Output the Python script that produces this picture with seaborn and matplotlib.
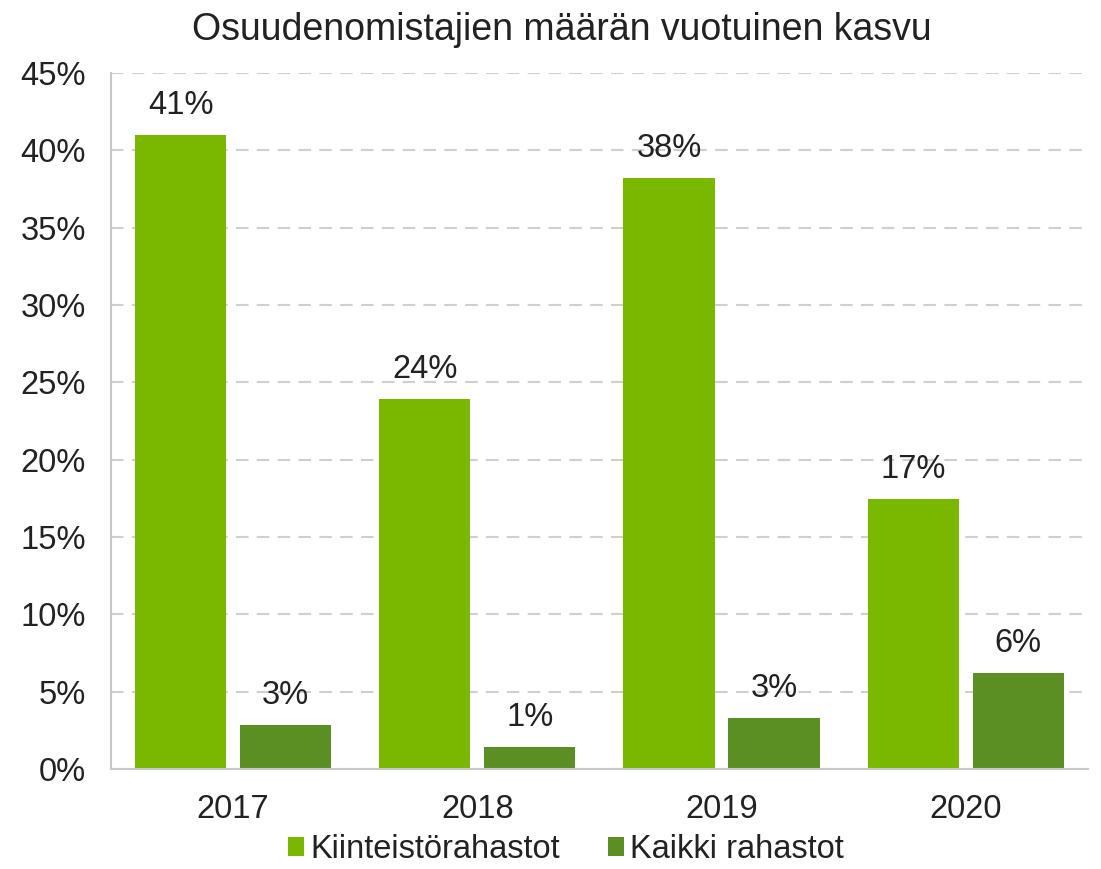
import matplotlib
matplotlib.use("Agg")
import matplotlib.pyplot as plt
from matplotlib.ticker import PercentFormatter
import seaborn as sns
import pandas as pd

## ===================== data =====================

years = ["2017", "2018", "2019", "2020"]
series = ["Kiinteistörahastot", "Kaikki rahastot"]
kiinteisto = [41.0, 23.9, 38.2, 17.45]
kaikki = [2.85, 1.45, 3.3, 6.2]
colors = ["#7AB800", "#5B8F23"]

df = pd.DataFrame({
    "Vuosi": years * 2,
    "Sarja": [series[0]] * len(years) + [series[1]] * len(years),
    "Kasvu": kiinteisto + kaikki,
})

## ===================== draw figure =====================

sns.set_style("white")
plt.rcParams["font.family"] = ["Liberation Sans", "DejaVu Sans"]
fs = 23.5

fig = plt.figure(figsize = (11.01, 8.69), dpi = 100)
ax = fig.add_axes([0.1008, 0.1151, 0.8872, 0.8009])

sns.barplot(ax = ax, data = df, x = "Vuosi", y = "Kasvu", hue = "Sarja",
            palette = colors, width = 0.86, gap = 0.13, saturation = 1,
            edgecolor = "none", legend = True)

for cont in ax.containers:
    ax.bar_label(cont, labels = [f"{v:.0f}%" for v in cont.datavalues],
                 padding = 10, fontsize = fs, color = "#222222")

ax.set_ylim(0, 45)
ax.set_yticks(range(0, 50, 5))
ax.yaxis.set_major_formatter(PercentFormatter(decimals = 0))
ax.set_xlabel("")
ax.set_ylabel("")
ax.tick_params(axis = "both", labelsize = fs, colors = "#222222", length = 0)
ax.tick_params(axis = "y", pad = 18)
ax.tick_params(axis = "x", pad = 18)
ax.grid(axis = "y", linestyle = (0, (6, 4)), color = "#CFCFCF", linewidth = 1.5)
ax.set_axisbelow(True)
for side in ["top", "right"]:
    ax.spines[side].set_visible(False)
for side in ["left", "bottom"]:
    ax.spines[side].set_color("#C8C8C8")
    ax.spines[side].set_linewidth(1.5)

fig.suptitle("Osuudenomistajien määrän vuotuinen kasvu", x = 0.51, y = 0.986,
             fontsize = 27, color = "#222222")

handles, labels = ax.get_legend_handles_labels()
ax.legend_.remove()
fig.legend(handles, labels, loc = "lower center", bbox_to_anchor = (0.514, -0.029), ncol = 2,
           frameon = False, fontsize = fs, handlelength = 0.5, handleheight = 0.5,
           handletextpad = 0.2, columnspacing = 1.45, labelcolor = "#222222")

fig.savefig("out.png", dpi = 100)
